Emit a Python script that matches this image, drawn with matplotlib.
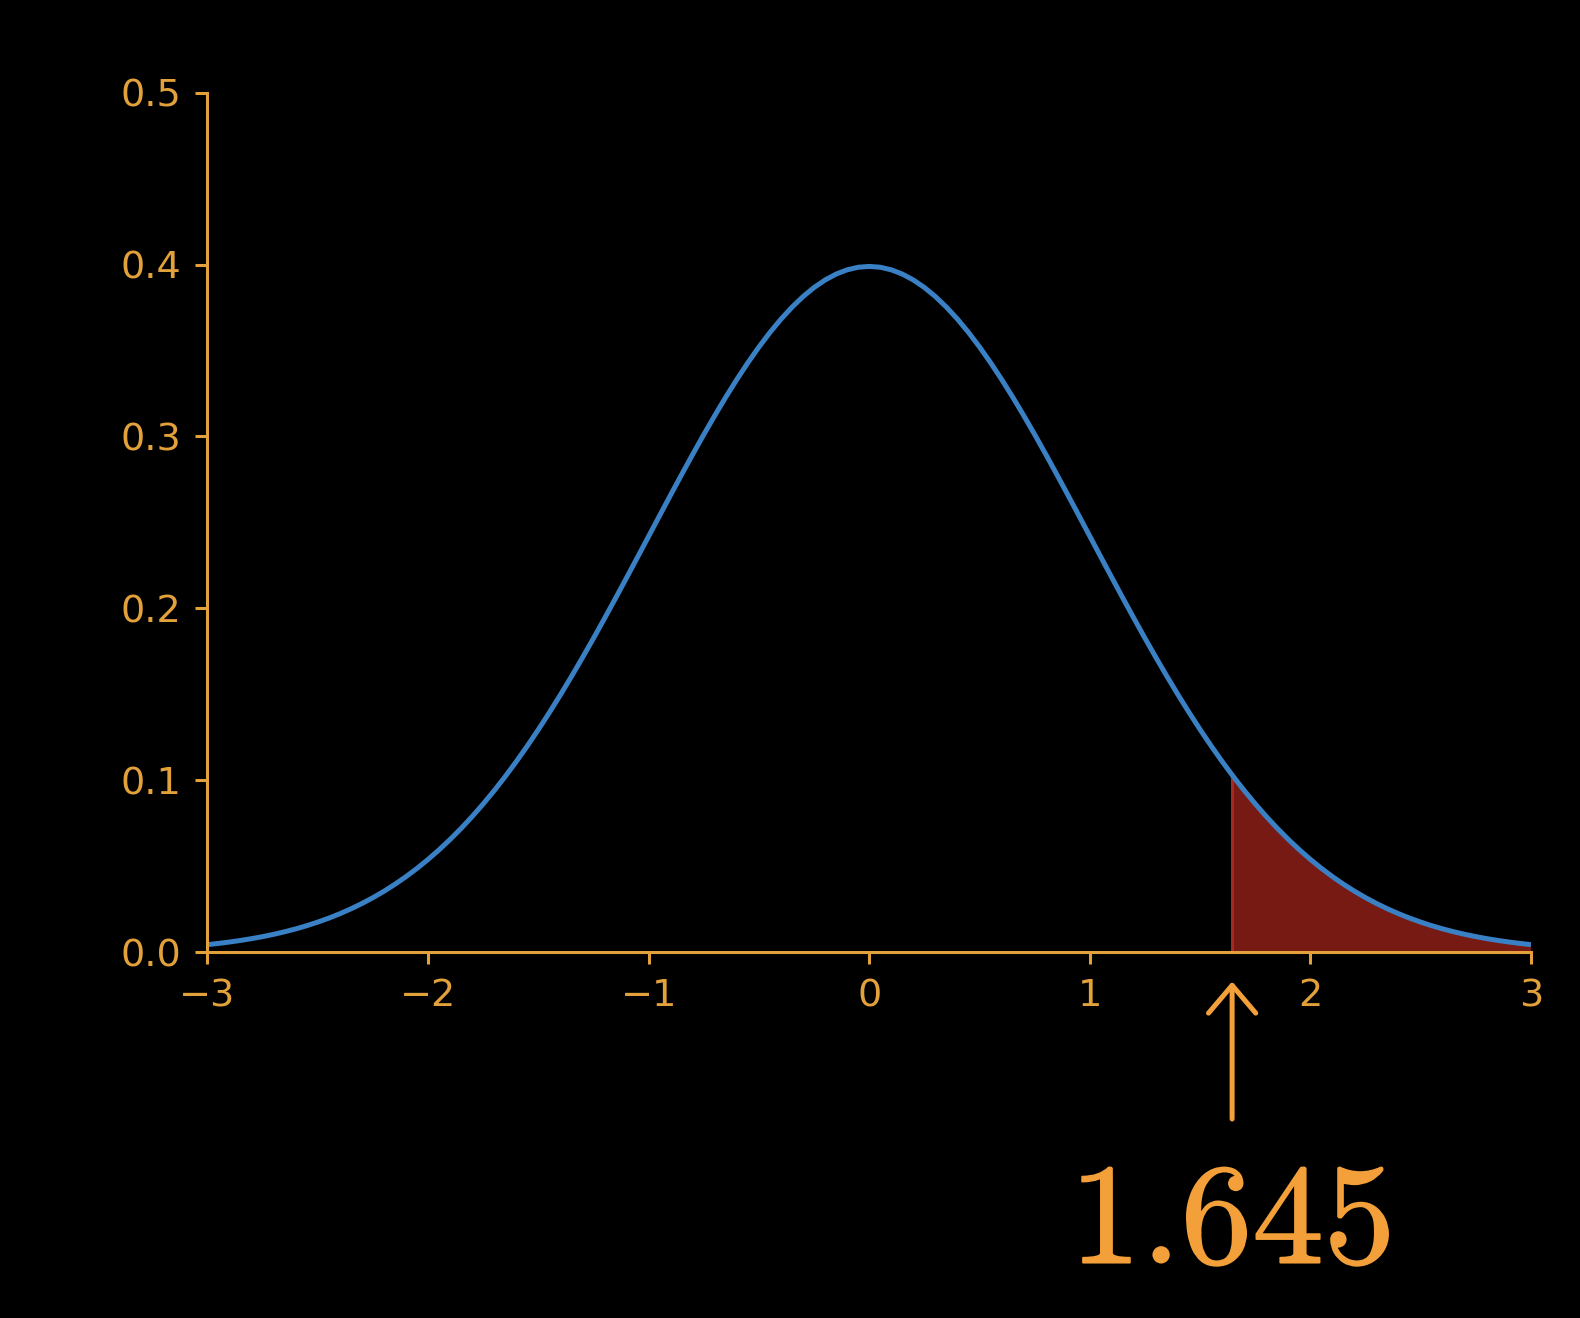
import matplotlib
matplotlib.use("Agg")
import matplotlib.pyplot as plt
import matplotlib.patheffects as pe

# Data (standard-normal shaped curve), right half values
x_right = [0.00, 0.05, 0.10, 0.15, 0.20, 0.25, 0.30, 0.35, 0.40, 0.45,
           0.50, 0.55, 0.60, 0.65, 0.70, 0.75, 0.80, 0.85, 0.90, 0.95,
           1.00, 1.05, 1.10, 1.15, 1.20, 1.25, 1.30, 1.35, 1.40, 1.45,
           1.50, 1.55, 1.60, 1.645, 1.65, 1.70, 1.75, 1.80, 1.85, 1.90, 1.95,
           2.00, 2.05, 2.10, 2.15, 2.20, 2.25, 2.30, 2.35, 2.40, 2.45,
           2.50, 2.55, 2.60, 2.65, 2.70, 2.75, 2.80, 2.85, 2.90, 2.95, 3.00]
y_right = [0.39894, 0.39844, 0.39695, 0.39448, 0.39104, 0.38667, 0.38139, 0.37524, 0.36827, 0.36053,
           0.35207, 0.34294, 0.33322, 0.32297, 0.31225, 0.30114, 0.28969, 0.27798, 0.26609, 0.25406,
           0.24197, 0.22988, 0.21785, 0.20594, 0.19419, 0.18265, 0.17137, 0.16038, 0.14973, 0.13943,
           0.12952, 0.12001, 0.11092, 0.10314, 0.10226, 0.09405, 0.08628, 0.07895, 0.07206, 0.06562, 0.05959,
           0.05399, 0.04879, 0.04398, 0.03955, 0.03547, 0.03174, 0.02833, 0.02522, 0.02239, 0.01984,
           0.01753, 0.01545, 0.01358, 0.01191, 0.01042, 0.00909, 0.00792, 0.00687, 0.00595, 0.00514, 0.00443]
# left half mirrors the right half (symmetric curve in the picture)
x_left = [-x for x in x_right[:0:-1] if x != 1.645]
y_left = [y for x, y in zip(x_right[:0:-1], y_right[:0:-1]) if x != 1.645]

critical_value = 1.645
critical_label = r"$1.645$"
x_ticks = [-3, -2, -1, 0, 1, 2, 3]
x_ticklabels = ["\u22123", "\u22122", "\u22121", "0", "1", "2", "3"]
y_ticks = [0.0, 0.1, 0.2, 0.3, 0.4, 0.5]
y_ticklabels = ["0.0", "0.1", "0.2", "0.3", "0.4", "0.5"]

ORANGE_AX = "#e2a13a"
ORANGE_TXT = "#f3a03a"
BLUE = "#3a80c4"

plt.rcParams["mathtext.fontset"] = "cm"

fig = plt.figure(figsize=(15.8, 13.18), dpi=100, facecolor="black")
ax = fig.add_axes([0.1313, 0.2775, 0.8377, 0.6522])
ax.set_facecolor("black")

x_vals = x_left + x_right
y_vals = y_left + y_right

tail_x = [x for x in x_right if x >= critical_value]
tail_y = [y for x, y in zip(x_right, y_right) if x >= critical_value]
ax.fill_between(tail_x, tail_y, 0, facecolor="#781a14", edgecolor="none", zorder=1)
ax.plot([critical_value, critical_value], [0, tail_y[0]], color="#a62820", lw=2.2, zorder=1.5)
ax.plot(x_vals, y_vals, color=BLUE, lw=3.6, zorder=2, solid_capstyle="butt")

ax.set_xlim(-3, 3)
ax.set_ylim(0, 0.5)
ax.set_xticks(x_ticks)
ax.set_xticklabels(x_ticklabels)
ax.set_yticks(y_ticks)
ax.set_yticklabels(y_ticklabels)

for s in ["top", "right"]:
    ax.spines[s].set_visible(False)
for s in ["left", "bottom"]:
    ax.spines[s].set_color(ORANGE_AX)
    ax.spines[s].set_linewidth(2.2)
ax.tick_params(colors=ORANGE_AX, labelcolor=ORANGE_AX, length=8.6, width=2.2,
               labelsize=27.5, pad=10)

trans = ax.get_xaxis_transform()
ax.annotate("", xy=(critical_value, -0.034), xycoords=trans,
            xytext=(critical_value, -0.194), textcoords=trans,
            arrowprops=dict(arrowstyle="->,head_length=2.0,head_width=1.7",
                            mutation_scale=10, color=ORANGE_TXT, lw=3.6,
                            shrinkA=0, shrinkB=0),
            annotation_clip=False)
ax.text(1.635, -0.3618, critical_label, transform=trans, ha="center", va="baseline",
        fontsize=103, color=ORANGE_TXT, clip_on=False,
        path_effects=[pe.withStroke(linewidth=1.2, foreground=ORANGE_TXT)])

fig.savefig("out.png", dpi=100, facecolor="black")
